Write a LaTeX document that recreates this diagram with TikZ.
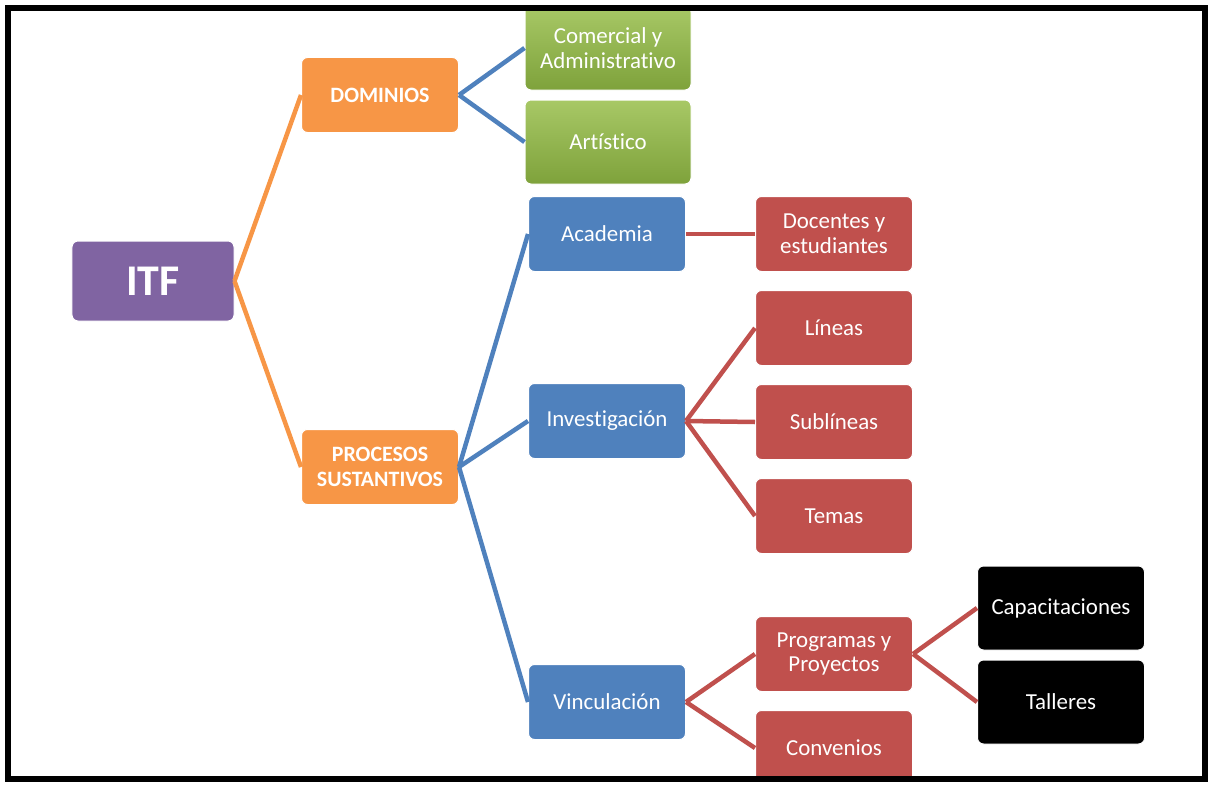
\documentclass[tikz,border=0pt]{standalone}
\usepackage{fontspec}
\setmainfont{Carlito}[Ligatures=NoCommon]
\usetikzlibrary{positioning}

\definecolor{itfpurple}{HTML}{8064A2}
\definecolor{domorange}{HTML}{F79646}
\definecolor{greentop}{HTML}{A8C866}
\definecolor{greenbot}{HTML}{7EA23B}
\definecolor{subblue}{HTML}{4F81BD}
\definecolor{itemred}{HTML}{C0504D}

\begin{document}
\begin{tikzpicture}[x=1bp,y=-1bp,
  box/.style={rectangle,rounded corners=6bp,draw=white,line width=1bp,text=white,align=center,
    minimum width=157bp,minimum height=75bp,font=\fontsize{23}{25}\selectfont},
  root node/.style={box,fill=itfpurple,minimum width=162bp,minimum height=80bp,
    font=\fontsize{44}{48}\selectfont\bfseries},
  main node/.style={box,fill=domorange,font=\fontsize{22}{25}\selectfont\bfseries},
  area node/.style={box,top color=greentop,bottom color=greenbot,minimum width=166bp,minimum height=84bp},
  sub node/.style={box,fill=subblue},
  item node/.style={box,fill=itemred},
  end node/.style={box,fill=black,minimum width=167bp,minimum height=84bp},
  link/.style={line width=4.5bp}]

  \useasboundingbox (0,0) rectangle (1208,787);

  \begin{scope}
  \clip (8,8.5) rectangle (1204.5,779);

  \node[root node] (itf) at (153,281) {ITF};

  \node[main node] (dom) at (380,95) {DOMINIOS};
  \node[main node] (proc) at (380,467) {PROCESOS\\SUSTANTIVOS};

  \node[area node] (com) at (608,48) {Comercial y\\Administrativo};
  \node[area node] (art) [below=9bp of com] {Art\'istico};

  \node[sub node] (aca) at (607,234) {Academia};
  \node[sub node] (inv) at (607,421) {Investigaci\'on};
  \node[sub node] (vin) at (607,702) {Vinculaci\'on};

  \node[item node] (doc) at (834,234) {Docentes y\\estudiantes};
  \node[item node] (lin) [below=18bp of doc] {L\'ineas};
  \node[item node] (subl) [below=18bp of lin] {Subl\'ineas};
  \node[item node] (tem) [below=18bp of subl] {Temas};
  \node[item node] (prog) at (834,654) {Programas y\\Proyectos};
  \node[item node] (conv) [below=18bp of prog] {Convenios};

  \node[end node] (cap) at (1061,608) {Capacitaciones};
  \node[end node] (tall) [below=9bp of cap] {Talleres};

  \path[link,domorange]
    (itf.east) edge (dom.west) edge (proc.west);
  \path[link,subblue]
    (dom.east) edge (com.west) edge (art.west)
    (proc.east) edge (aca.west) edge (inv.west) edge (vin.west);
  \path[link,itemred]
    (aca.east) edge (doc.west)
    (inv.east) edge (lin.west) edge (subl.west) edge (tem.west)
    (vin.east) edge (prog.west) edge (conv.west)
    (prog.east) edge (cap.west) edge (tall.west);
  \end{scope}

  % frame
  \draw[line width=6bp] (8,8.5) rectangle (1204.5,779);

\end{tikzpicture}
\end{document}
